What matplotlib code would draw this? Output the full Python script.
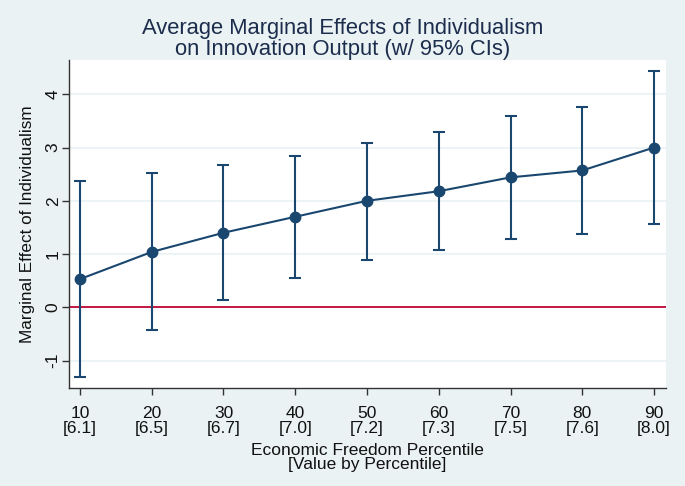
import matplotlib
matplotlib.use("Agg")
import matplotlib.pyplot as plt

percentiles = [10, 20, 30, 40, 50, 60, 70, 80, 90]
freedom_values = ["6.1", "6.5", "6.7", "7.0", "7.2", "7.3", "7.5", "7.6", "8.0"]
effect = [0.53, 1.04, 1.40, 1.70, 2.00, 2.18, 2.44, 2.57, 3.00]
ci_low = [-1.30, -0.42, 0.14, 0.55, 0.89, 1.08, 1.28, 1.37, 1.57]
ci_high = [2.38, 2.52, 2.67, 2.84, 3.09, 3.29, 3.59, 3.77, 4.43]
yticks = [-1, 0, 1, 2, 3, 4]

plt.rcParams['font.family'] = ['Liberation Sans', 'DejaVu Sans']

bg = '#EAF2F3'
navy = '#1a476f'

fig = plt.figure(figsize=(6.85, 4.86), dpi=100, facecolor=bg)
ax = fig.add_axes([69/685, 1-388/486, (666-69)/685, (388-60)/486])
ax.set_facecolor('white')

ax.set_xlim(8.47, 91.67)
ax.set_ylim(-1.515, 4.644)

for t in yticks:
    ax.axhline(t, color=bg, lw=1.2, zorder=0)
ax.axhline(0, color='#c10534', lw=1.3, zorder=1)

yerr = [[e - l for e, l in zip(effect, ci_low)], [h - e for e, h in zip(effect, ci_high)]]
ax.errorbar(percentiles, effect, yerr=yerr, fmt='o-', color=navy, ecolor=navy,
            elinewidth=1.5, capsize=4, capthick=1.5, lw=1.5, markersize=7.5, zorder=3)

ax.set_xticks(percentiles)
ax.set_xticklabels([f"{p}\n[{v}]" for p, v in zip(percentiles, freedom_values)],
                   fontsize=12.5, linespacing=0.96)
ax.set_yticks(yticks)
ax.set_yticklabels([str(t) for t in yticks], rotation=90, va='center', fontsize=12.5)
ax.tick_params(axis='both', colors='#333333', labelcolor='#111111', length=5, width=1)
ax.tick_params(axis='x', pad=8)
ax.tick_params(axis='y', pad=1)

for s in ['top', 'right']:
    ax.spines[s].set_visible(False)
for s in ['left', 'bottom']:
    ax.spines[s].set_color('#333333')
    ax.spines[s].set_linewidth(1)

ax.set_xlabel("Economic Freedom Percentile\n[Value by Percentile]", fontsize=12.5,
              color='#111111', linespacing=0.96, labelpad=5)
ax.set_ylabel("Marginal Effect of Individualism", fontsize=12.3, color='#111111', labelpad=8)

fig.text(0.5, 1-39/486, "Average Marginal Effects of Individualism\non Innovation Output (w/ 95% CIs)",
         ha='center', va='center', fontsize=15.8, color='#1c2c4c', linespacing=1.0)

fig.savefig('out.png', dpi=100, facecolor=bg)
